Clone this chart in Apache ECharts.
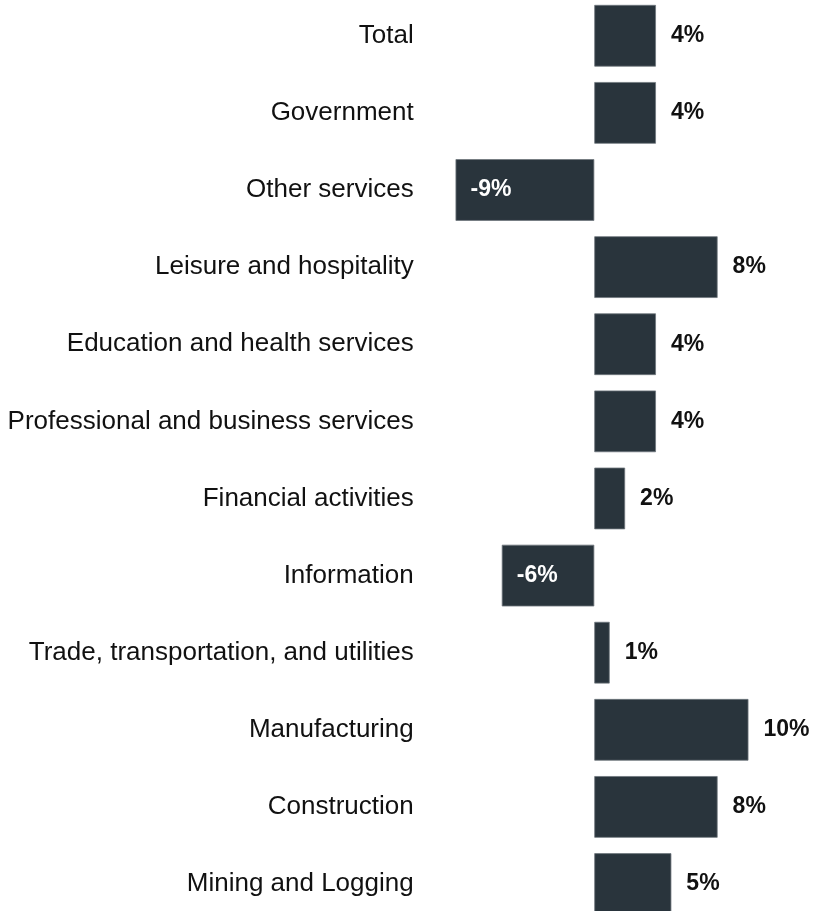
<!DOCTYPE html>
<html>
<head>
<meta charset="utf-8">
<script src="https://cdn.jsdelivr.net/npm/echarts@6/dist/echarts.min.js"></script>
<style>
  html, body { margin: 0; padding: 0; background: #ffffff; }
  #chart { width: 813px; height: 911px; }
</style>
</head>
<body>
<div id="chart"></div>
<script>
// Employment change by industry, percent
const categories = [
  'Total',
  'Government',
  'Other services',
  'Leisure and hospitality',
  'Education and health services',
  'Professional and business services',
  'Financial activities',
  'Information',
  'Trade, transportation, and utilities',
  'Manufacturing',
  'Construction',
  'Mining and Logging'
];
const changePct = [4, 4, -9, 8, 4, 4, 2, -6, 1, 10, 8, 5];

const BAR_COLOR = '#29343c';
const FONT = '"Liberation Sans", Arial, sans-serif';

// Positive bars carry their label outside on the right; negative bars
// carry a white label inside, near their left end.
const barData = changePct.map(function (v) {
  return {
    value: v,
    label: v < 0
      ? { position: 'insideLeft', color: '#ffffff' }
      : { position: 'right', color: '#111111' }
  };
});

const chart = echarts.init(document.getElementById('chart'), null, { renderer: 'canvas' });
chart.setOption({
  animation: false,
  backgroundColor: '#ffffff',
  grid: {
    left: 424.7,
    width: 370,
    top: -2.8,
    height: 925.4,
    containLabel: false,
    outerBoundsMode: 'none'
  },
  xAxis: {
    type: 'value',
    min: -11,
    max: 13,
    show: false
  },
  yAxis: {
    type: 'category',
    data: categories,
    inverse: true,
    axisLine: { show: false, onZero: false },
    axisTick: { show: false },
    splitLine: { show: false },
    axisLabel: {
      margin: 11,
      fontSize: 26,
      fontFamily: FONT,
      color: '#111111'
    }
  },
  series: [{
    type: 'bar',
    data: barData,
    barCategoryGap: '20%',
    itemStyle: {
      color: BAR_COLOR,
      borderColor: '#6e767c',
      borderWidth: 0.8
    },
    label: {
      show: true,
      distance: 15,
      fontSize: 23,
      fontWeight: 'bold',
      fontFamily: FONT,
      formatter: '{c}%'
    }
  }]
});
</script>
</body>
</html>
